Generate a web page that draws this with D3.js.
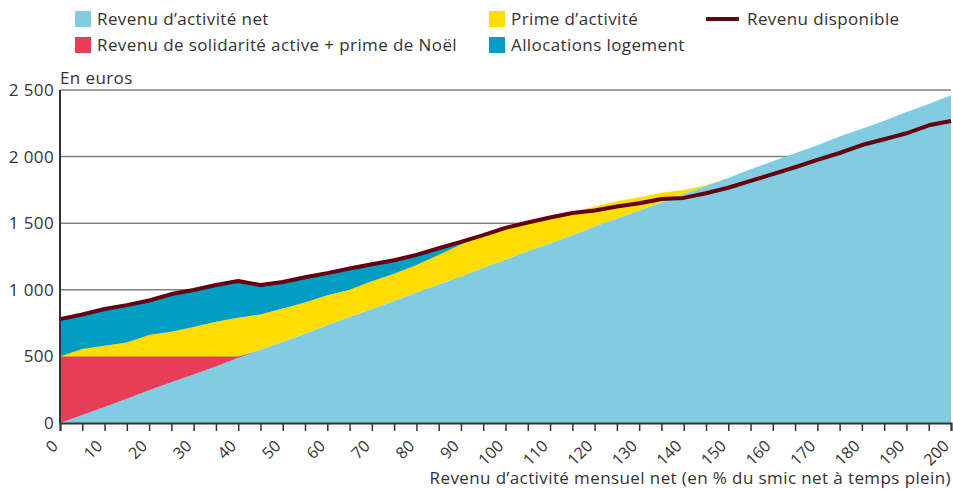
<!DOCTYPE html>
<html>
<head>
<meta charset="utf-8">
<script src="https://cdn.jsdelivr.net/npm/d3@7"></script>
<style>
  body { margin: 0; background: #fff; }
  text { font-family: "Open Sans", Lato, sans-serif; fill: #333; }
  .lbl { font-size: 17px; letter-spacing: 0.4px; }
</style>
</head>
<body>
<div id="chart"></div>
<script>
// x = revenu d'activité en % du smic net
var pcts = [0, 5, 10, 15, 20, 25, 30, 35, 40, 45, 50, 55, 60, 65, 70, 75, 80, 85, 90, 95, 100,
    105, 110, 115, 120, 125, 130, 135, 140, 145, 150, 155, 160, 165, 170, 175, 180, 185, 190, 195, 200];

// series (euros)
var activite = [0, 60, 120, 182, 245, 305, 365, 425, 490, 550, 610, 670, 735, 795, 855, 915, 980, 1040, 1100, 1165, 1225,
    1290, 1350, 1410, 1475, 1535, 1595, 1655, 1720, 1780, 1840, 1905, 1965, 2025, 2085, 2150, 2210, 2270, 2335, 2395, 2460];
var rsa = [500, 440, 380, 318, 255, 195, 135, 75, 10, 0, 0, 0, 0, 0, 0, 0, 0, 0, 0, 0, 0,
    0, 0, 0, 0, 0, 0, 0, 0, 0, 0, 0, 0, 0, 0, 0, 0, 0, 0, 0, 0];
var prime = [0, 55, 80, 105, 160, 185, 220, 260, 290, 265, 250, 235, 225, 205, 210, 205, 207, 222, 240, 245, 240,
    215, 193, 170, 150, 130, 100, 73, 30, 5, 0, 0, 0, 0, 0, 0, 0, 0, 0, 0, 0];
var alloc = [280, 260, 276, 280, 260, 283, 278, 276, 276, 221, 198, 189, 165, 160, 127, 102, 75, 50, 20, 0, 0,
    0, 0, 0, 0, 0, 0, 0, 0, 0, 0, 0, 0, 0, 0, 0, 0, 0, 0, 0, 0];
var dispo = [780, 815, 856, 885, 920, 968, 998, 1036, 1066, 1036, 1058, 1094, 1125, 1160, 1192, 1222, 1262, 1312, 1360, 1410, 1465,
    1505, 1543, 1577, 1595, 1625, 1650, 1682, 1690, 1725, 1766, 1818, 1868, 1920, 1975, 2027, 2087, 2130, 2175, 2235, 2267];

var yTicks = [0, 500, 1000, 1500, 2000, 2500];
var xTicks = d3.range(0, 201, 10);

var keys = ["activite", "rsa", "prime", "alloc"];
var labels = {
    activite: "Revenu d\u2019activité net",
    rsa: "Revenu de solidarité active + prime de Noël",
    prime: "Prime d\u2019activité",
    alloc: "Allocations logement"
};
var colors = { activite: "#81cce0", rsa: "#e83d56", prime: "#ffdd00", alloc: "#009dc3" };
var lineColor = "#640010";

var svgWidth = 953;
var svgHeight = 489;
var margin = { top: 90, right: 2, bottom: 66, left: 60 };
var width = svgWidth - margin.left - margin.right;
var height = svgHeight - margin.top - margin.bottom;

var svg = d3.select("#chart")
    .append("svg")
    .attr("width", svgWidth)
    .attr("height", svgHeight);

var g = svg.append("g")
    .attr("transform", `translate(${margin.left}, ${margin.top})`);

var rows = pcts.map(function(p, i) {
    return { pct: p, activite: activite[i], rsa: rsa[i], prime: prime[i], alloc: alloc[i], dispo: dispo[i] };
});

var x = d3.scaleLinear().domain([0, 200]).range([0, width]);
var y = d3.scaleLinear().domain([0, 2500]).range([height, 0]);

// gridlines
g.selectAll(".grid")
    .data(yTicks.filter(d => d > 0))
    .enter().append("line")
    .attr("x1", 0).attr("x2", width)
    .attr("y1", d => y(d)).attr("y2", d => y(d))
    .attr("stroke", "#808080")
    .attr("stroke-width", 1.5);

// stacked areas
var stack = d3.stack().keys(keys)(rows);
var area = d3.area()
    .x(d => x(d.data.pct))
    .y0(d => y(d[0]))
    .y1(d => y(d[1]));

g.selectAll(".layer")
    .data(stack)
    .enter().append("path")
    .attr("d", area)
    .attr("fill", d => colors[d.key]);

// revenu disponible
var line = d3.line()
    .x(d => x(d.pct))
    .y(d => y(d.dispo));

g.append("path")
    .datum(rows)
    .attr("d", line)
    .attr("fill", "none")
    .attr("stroke", lineColor)
    .attr("stroke-width", 4)
    .attr("stroke-linejoin", "round");

// axes
var xAxis = d3.axisBottom(x).tickValues(d3.range(0, 201, 5)).tickSize(8).tickFormat("");
var xg = g.append("g")
    .attr("transform", `translate(0, ${height})`)
    .call(xAxis);
xg.select(".domain").attr("stroke", "#333").attr("stroke-width", 2);
xg.selectAll(".tick line").attr("stroke", "#333").attr("stroke-width", 1.5);

g.selectAll(".xlabel")
    .data(xTicks)
    .enter().append("text")
    .attr("transform", d => `translate(${x(d) - 1}, ${height + 24}) rotate(-45)`)
    .attr("text-anchor", "end")
    .attr("font-size", "16px")
    .text(d => d);

g.append("line")
    .attr("x1", 0).attr("x2", 0)
    .attr("y1", 0).attr("y2", height)
    .attr("stroke", "#333")
    .attr("stroke-width", 2);

g.selectAll(".ylabel")
    .data(yTicks)
    .enter().append("text")
    .attr("class", "lbl")
    .attr("x", -6)
    .attr("y", d => y(d))
    .attr("dy", "0.35em")
    .attr("text-anchor", "end")
    .text(d => d3.format(",")(d).replace(",", " "));

g.append("text")
    .attr("class", "lbl")
    .attr("x", 0)
    .attr("y", -6)
    .text("En euros");

g.append("text")
    .attr("class", "lbl")
    .attr("x", width)
    .attr("y", height + 61)
    .attr("text-anchor", "end")
    .text("Revenu d\u2019activité mensuel net (en % du smic net à temps plein)");

// legend
var legendItems = [
    { key: "activite", x: 75, y: 19 },
    { key: "rsa", x: 75, y: 45 },
    { key: "prime", x: 489, y: 19 },
    { key: "alloc", x: 489, y: 45 }
];
var legend = svg.append("g");
legendItems.forEach(function(it) {
    legend.append("rect")
        .attr("x", it.x).attr("y", it.y - 8)
        .attr("width", 16).attr("height", 16)
        .attr("fill", colors[it.key]);
    legend.append("text")
        .attr("class", "lbl")
        .attr("x", it.x + 22).attr("y", it.y)
        .attr("dy", "0.35em")
        .text(labels[it.key]);
});
legend.append("line")
    .attr("x1", 706).attr("x2", 739)
    .attr("y1", 19).attr("y2", 19)
    .attr("stroke", lineColor)
    .attr("stroke-width", 4);
legend.append("text")
    .attr("class", "lbl")
    .attr("x", 747).attr("y", 19)
    .attr("dy", "0.35em")
    .text("Revenu disponible");
</script>
</body>
</html>
